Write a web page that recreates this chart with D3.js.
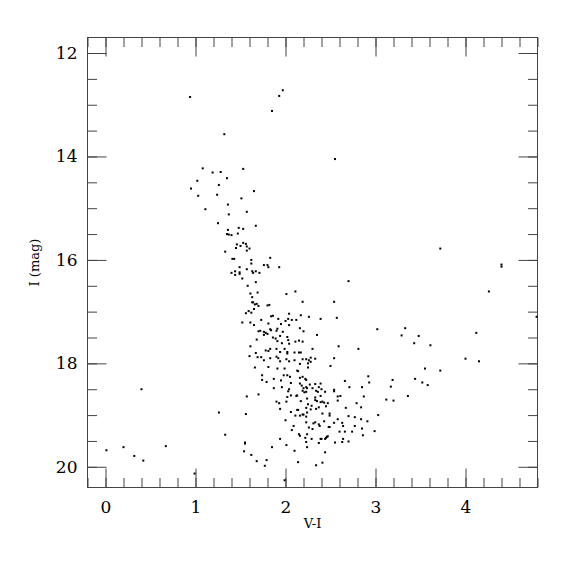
<!DOCTYPE html>
<html>
<head>
<meta charset="utf-8">
<script src="https://cdn.jsdelivr.net/npm/d3@7"></script>
<style>
  body { margin: 0; background: #fff; }
  svg text { font-family: "DejaVu Serif", serif; fill: #000; }
</style>
</head>
<body>
<div id="cmd"></div>
<script>
// V-I colour and I magnitude of each star
var colorVI = [
    0.94, 1.85, 1.93, 1.97, 1.32, 2.55,
    1.08, 1.19, 1.28, 1.53, 1.35, 1.02, 1.26, 0.95, 1.65, 1.03, 1.24, 1.51, 1.36, 1.11,
    1.57, 1.37, 1.25, 1.67, 1.36, 1.48, 1.53, 1.47, 1.35, 1.37, 1.40, 1.53, 1.46, 1.50,
    1.56, 1.57, 1.45, 1.60, 1.57, 1.33, 1.41, 1.43, 1.62, 1.83, 1.62, 1.76, 1.80, 1.81,
    1.93, 1.49, 1.57, 1.44, 1.44, 1.40, 1.49, 1.49, 1.63, 1.64, 1.67, 1.71, 1.52,
    2.70, 1.58, 1.67, 2.11, 2.01, 1.61, 1.69, 1.63, 2.19, 2.54, 1.63, 1.64, 1.66, 1.68,
    1.70, 1.80, 1.82, 1.59, 1.62, 1.56, 1.65, 2.04, 1.84, 1.86, 2.17, 2.26, 2.39, 2.57,
    1.92, 2.00, 2.03, 2.07, 2.12, 1.73, 1.52, 1.61, 1.81, 1.65, 1.95, 2.04, 2.16, 2.20,
    3.02, 1.72, 1.70, 1.76, 1.78, 1.80, 1.83, 1.84, 1.91, 1.90, 1.97, 1.76, 2.35, 1.86,
    1.89, 1.94, 2.02, 1.68, 1.91, 1.96, 2.03, 2.04, 2.11, 2.15, 2.19, 2.59, 1.61, 1.83,
    1.81, 1.78, 1.90, 1.94, 1.99, 2.02, 2.02, 2.10, 2.15, 2.17, 2.30, 2.81, 1.67, 1.90,
    1.60, 1.69, 1.73, 1.76, 1.83, 1.92, 1.94, 2.01, 2.04, 2.10, 2.19, 2.23, 2.26, 2.28,
    2.33, 2.54, 2.16, 2.25, 2.28, 2.50, 1.66, 1.81, 1.91, 1.99, 2.13, 2.14, 2.25, 2.05,
    2.16, 2.19, 1.74, 1.98, 2.02, 2.22, 2.23, 2.92, 1.74, 1.79, 1.87, 1.95, 2.16, 2.18,
    2.06, 2.27, 2.33, 2.39, 2.66, 2.93, 2.23, 2.20, 2.24, 2.30, 2.37, 1.96, 1.87, 2.04,
    2.71, 2.85, 2.03, 2.34, 2.36, 2.40, 2.44, 2.54, 2.54, 2.19, 2.21, 2.23, 1.57, 1.70,
    2.06, 2.02, 2.12, 2.13, 2.24, 2.33, 2.39, 2.58, 2.61, 2.87,
    1.90, 1.93, 2.01, 2.17, 2.25, 2.29, 2.33, 2.35, 2.39, 2.41, 2.43, 2.47, 2.45, 2.58,
    2.79, 1.94, 2.06, 2.13, 2.14, 2.23, 2.24, 2.28, 2.34, 2.37, 2.41, 2.49, 2.49, 2.67,
    2.84, 1.26, 1.56, 2.11, 2.16, 2.19, 2.20, 2.23, 2.70, 2.58, 2.77, 2.84, 2.00, 2.09,
    2.23, 2.26, 2.31, 2.33, 2.37, 2.38, 2.30, 2.43, 2.48, 2.49, 2.54, 2.63, 2.64, 2.60,
    2.66, 2.77, 2.91, 3.03, 2.85, 2.86, 2.74, 2.99, 1.33, 2.07, 2.15, 2.16, 2.24, 2.22,
    2.23, 2.29, 2.39, 2.40, 2.44, 2.45, 2.37, 2.46, 2.47, 1.94, 2.01, 2.24, 2.55, 2.63,
    2.70, 2.64, 1.55, 1.55, 1.85, 2.10, 2.44, 1.54, 1.62, 1.68, 1.79, 1.77, 2.14, 2.41,
    2.34, 0.99, 1.99,
    3.72, 4.40, 4.40, 4.26, 4.79, 3.33, 3.29, 3.48, 3.43, 3.61, 4.12, 4.00, 4.15, 3.55,
    3.72, 3.19, 3.44, 3.17, 3.52, 3.58, 3.12, 3.20, 3.36,
    0.40, 0.01, 0.20, 0.32, 0.42, 0.67
];
var magI = [
    12.85, 13.12, 12.83, 12.72, 13.57, 14.05,
    14.23, 14.31, 14.30, 14.24, 14.42, 14.47, 14.55, 14.62, 14.67, 14.76, 14.74, 14.81, 14.93, 15.02,
    15.07, 15.12, 15.29, 15.34, 15.42, 15.38, 15.40, 15.49, 15.50, 15.51, 15.52, 15.67, 15.70, 15.73,
    15.69, 15.74, 15.77, 15.78, 15.82, 15.84, 15.98, 15.98, 16.00, 15.96, 16.07, 16.10, 16.10, 16.14,
    16.14, 16.14, 16.18, 16.22, 16.29, 16.25, 16.24, 16.27, 16.22, 16.25, 16.22, 16.25, 16.36,
    16.41, 16.50, 16.43, 16.61, 16.66, 16.65, 16.63, 16.72, 16.81, 16.81, 16.82, 16.82, 16.86, 16.85,
    16.89, 16.88, 16.87, 16.99, 17.02, 17.03, 16.95, 17.04, 17.09, 17.08, 17.07, 17.10, 17.14, 17.12,
    17.14, 17.18, 17.14, 17.16, 17.16, 17.16, 17.21, 17.21, 17.23, 17.26, 17.24, 17.26, 17.32, 17.38,
    17.34, 17.37, 17.38, 17.39, 17.41, 17.43, 17.34, 17.36, 17.33, 17.37, 17.39, 17.45, 17.45, 17.50,
    17.52, 17.47, 17.49, 17.54, 17.57, 17.61, 17.55, 17.62, 17.58, 17.56, 17.58, 17.67, 17.67, 17.72,
    17.76, 17.75, 17.72, 17.78, 17.72, 17.78, 17.81, 17.79, 17.79, 17.79, 17.72, 17.72, 17.80, 17.87,
    17.86, 17.88, 17.88, 17.94, 17.90, 17.90, 17.96, 17.92, 17.96, 17.94, 17.92, 17.92, 17.94, 17.89,
    17.91, 17.90, 18.01, 18.00, 17.97, 18.05, 18.08, 18.07, 18.10, 18.10, 18.14, 18.15, 18.08, 18.26,
    18.28, 18.26, 18.23, 18.23, 18.23, 18.30, 18.32, 18.25, 18.32, 18.36, 18.30, 18.33, 18.39, 18.43,
    18.38, 18.41, 18.40, 18.39, 18.34, 18.37, 18.46, 18.48, 18.48, 18.48, 18.46, 18.46, 18.48, 18.50,
    18.46, 18.46, 18.54, 18.53, 18.55, 18.50, 18.55, 18.51, 18.54, 18.53, 18.56, 18.55, 18.64, 18.60,
    18.62, 18.65, 18.63, 18.62, 18.68, 18.66, 18.63, 18.64, 18.63, 18.64,
    18.74, 18.77, 18.74, 18.73, 18.79, 18.82, 18.71, 18.73, 18.75, 18.74, 18.76, 18.77, 18.83, 18.72,
    18.77, 18.88, 18.94, 18.90, 18.90, 18.86, 18.95, 18.89, 18.88, 18.85, 18.97, 18.97, 19.01, 18.86,
    18.85, 18.95, 18.98, 19.01, 19.01, 18.99, 18.99, 19.03, 19.02, 19.08, 19.04, 19.08, 19.10, 19.21,
    19.14, 19.24, 19.16, 19.14, 19.18, 19.21, 19.27, 19.12, 19.23, 19.23, 19.15, 19.15, 19.21, 19.32,
    19.32, 19.21, 19.12, 19.00, 19.26, 19.39, 19.32, 19.31, 19.38, 19.29, 19.37, 19.40, 19.37, 19.44,
    19.52, 19.46, 19.46, 19.46, 19.46, 19.44, 19.54, 19.42, 19.41, 19.46, 19.58, 19.62, 19.53, 19.52,
    19.51, 19.46, 19.53, 19.55, 19.62, 19.69, 19.72, 19.70, 19.77, 19.89, 19.87, 19.98, 19.91, 19.92,
    19.97, 20.13, 20.26,
    15.78, 16.09, 16.13, 16.61, 17.10, 17.32, 17.46, 17.47, 17.61, 17.65, 17.41, 17.91, 17.96, 18.10,
    18.14, 18.32, 18.30, 18.45, 18.37, 18.42, 18.70, 18.72, 18.63,
    18.50, 19.68, 19.62, 19.79, 19.88, 19.60
];

var xMajor = [0, 1, 2, 3, 4];
var yMajor = [12, 14, 16, 18, 20];

var width = 575, height = 575;
var margin = {top: 37.5, right: 37.5, bottom: 87.5, left: 87.5};
var iw = width - margin.left - margin.right;
var ih = height - margin.top - margin.bottom;

var svg = d3.select("#cmd")
    .append("svg")
    .attr("width", width)
    .attr("height", height);

var g = svg.append("g")
    .attr("transform", "translate(" + margin.left + "," + margin.top + ")");

var x = d3.scaleLinear().domain([-0.2, 4.8]).range([0, iw]);
var y = d3.scaleLinear().domain([11.7, 20.4]).range([0, ih]);

var xMinor = d3.range(-0.2, 4.81, 0.2).map(function (d) { return +d.toFixed(1); });
var yMinor = d3.range(12, 20.41, 0.5);

function styleAxis(sel) {
    sel.select(".domain").remove();
    sel.selectAll(".tick line").attr("stroke", "#444").attr("stroke-width", 1);
    sel.selectAll("text")
        .style("font-family", "DejaVu Serif")
        .style("font-size", "17px")
        .attr("fill", "#000");
}

// minor ticks, all four sides
g.append("g").attr("transform", "translate(0," + ih + ")")
    .call(d3.axisBottom(x).tickValues(xMinor).tickSize(-9.5).tickFormat(""))
    .call(styleAxis);
g.append("g")
    .call(d3.axisTop(x).tickValues(xMinor).tickSize(-9.5).tickFormat(""))
    .call(styleAxis);
g.append("g")
    .call(d3.axisLeft(y).tickValues(yMinor).tickSize(-9.5).tickFormat(""))
    .call(styleAxis);
g.append("g").attr("transform", "translate(" + iw + ",0)")
    .call(d3.axisRight(y).tickValues(yMinor).tickSize(-9.5).tickFormat(""))
    .call(styleAxis);

// major ticks with labels
g.append("g").attr("transform", "translate(0," + ih + ")")
    .call(d3.axisBottom(x).tickValues(xMajor).tickSize(-19).tickPadding(13).tickFormat(d3.format("d")))
    .call(styleAxis);
g.append("g")
    .call(d3.axisTop(x).tickValues(xMajor).tickSize(-19).tickFormat(""))
    .call(styleAxis);
g.append("g")
    .call(d3.axisLeft(y).tickValues(yMajor).tickSize(-19).tickPadding(10).tickFormat(d3.format("d")))
    .call(styleAxis);
g.append("g").attr("transform", "translate(" + iw + ",0)")
    .call(d3.axisRight(y).tickValues(yMajor).tickSize(-19).tickFormat(""))
    .call(styleAxis);

// frame
g.append("rect")
    .attr("width", iw)
    .attr("height", ih)
    .attr("fill", "none")
    .attr("stroke", "#444")
    .attr("stroke-width", 1);

// stars
var stars = colorVI.map(function (c, i) { return {vi: c, mag: magI[i]}; });
g.append("g").selectAll("rect")
    .data(stars)
    .enter()
    .append("rect")
    .attr("x", function (d) { return x(d.vi) - 1; })
    .attr("y", function (d) { return y(d.mag) - 1; })
    .attr("width", 2)
    .attr("height", 2)
    .attr("fill", "#000");

// axis titles
svg.append("text")
    .attr("x", margin.left + iw / 2)
    .attr("y", 528)
    .attr("text-anchor", "middle")
    .style("font-size", "13px")
    .text("V-I");

svg.append("text")
    .attr("transform", "translate(39," + (margin.top + ih / 2) + ") rotate(-90)")
    .attr("text-anchor", "middle")
    .style("font-size", "13px")
    .text("I (mag)");
</script>
</body>
</html>
